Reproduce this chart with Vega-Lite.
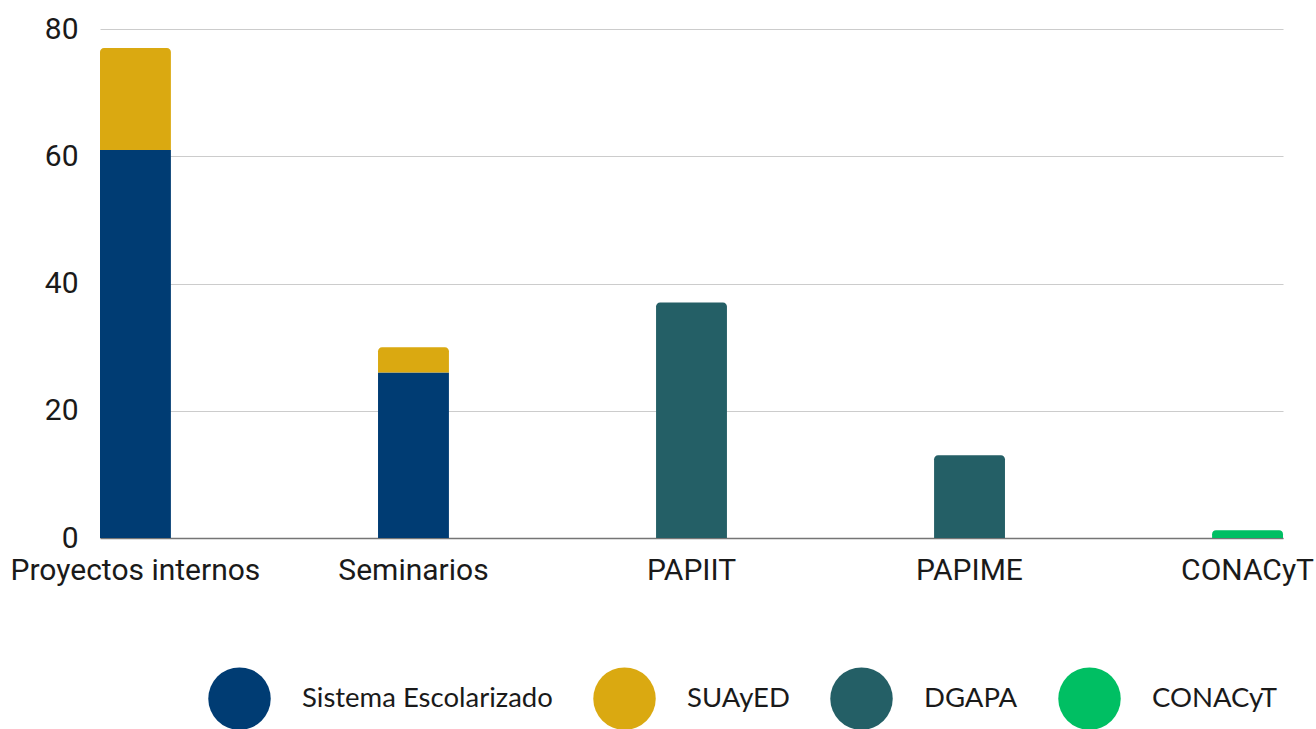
{
  "$schema": "https://vega.github.io/schema/vega-lite/v6.json",
  "autosize": "none",
  "width": 1183,
  "height": 509,
  "padding": {"left": 100, "top": 29, "right": 33, "bottom": 191},
  "background": "white",
  "config": {
    "view": {"stroke": null},
    "font": "Roboto"
  },
  "data": {
    "values": [
      {"cat": "Proyectos internos", "serie": "Sistema Escolarizado", "k": 1, "valor": 61},
      {"cat": "Proyectos internos", "serie": "SUAyED", "k": 2, "valor": 16},
      {"cat": "Seminarios", "serie": "Sistema Escolarizado", "k": 1, "valor": 26},
      {"cat": "Seminarios", "serie": "SUAyED", "k": 2, "valor": 4},
      {"cat": "PAPIIT", "serie": "DGAPA", "k": 3, "valor": 37},
      {"cat": "PAPIME", "serie": "DGAPA", "k": 3, "valor": 13},
      {"cat": "CONACyT", "serie": "CONACyT", "k": 4, "valor": 1.2}
    ]
  },
  "transform": [
    {"stack": "valor", "groupby": ["cat"], "sort": [{"field": "k", "order": "ascending"}], "as": ["v0", "v1"]}
  ],
  "encoding": {
    "x": {
      "field": "cat", "type": "nominal",
      "sort": ["Proyectos internos", "Seminarios", "PAPIIT", "PAPIME", "CONACyT"],
      "scale": {"paddingInner": 0.745, "paddingOuter": 0},
      "axis": {
        "title": null, "labelAngle": 0, "ticks": false,
        "labelFont": "Roboto", "labelFontSize": 30, "labelColor": "#1a1a1a",
        "labelPadding": 17, "labelLimit": 0, "labelOverlap": false,
        "domainColor": "#757575", "domainWidth": 1.5
      }
    },
    "y": {
      "field": "v1", "type": "quantitative",
      "scale": {"domain": [0, 80]},
      "axis": {
        "title": null, "values": [0, 20, 40, 60, 80], "domain": false, "ticks": false,
        "labelFont": "Roboto", "labelFontSize": 30, "labelColor": "#1a1a1a",
        "labelPadding": 22, "gridColor": "#cccccc", "gridWidth": 1.2
      }
    },
    "y2": {"field": "v0"},
    "color": {
      "field": "serie", "type": "nominal",
      "scale": {
        "domain": ["Sistema Escolarizado", "SUAyED", "DGAPA", "CONACyT"],
        "range": ["#003C73", "#DAA911", "#245F66", "#00BF63"]
      },
      "legend": {
        "title": null,
        "orient": "none",
        "direction": "horizontal",
        "legendX": 108,
        "legendY": 638,
        "symbolType": "circle",
        "symbolSize": 3900,
        "symbolStrokeWidth": 0,
        "symbolOpacity": 1,
        "labelFont": "Lato",
        "labelFontSize": 27.5,
        "labelColor": "#1a1a1a",
        "labelOffset": 31,
        "columnPadding": 40,
        "labelLimit": 400
      }
    }
  },
  "layer": [
    {
      "transform": [{"filter": "datum.k == 1"}],
      "mark": {"type": "bar"}
    },
    {
      "transform": [{"filter": "datum.k != 1"}],
      "mark": {"type": "bar", "cornerRadiusTopLeft": 4, "cornerRadiusTopRight": 4}
    }
  ]
}
